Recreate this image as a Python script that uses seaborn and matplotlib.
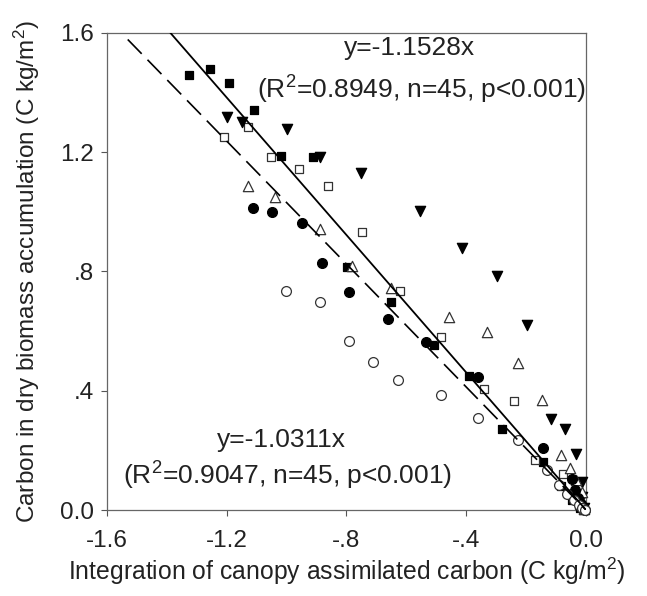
import matplotlib
matplotlib.use("Agg")
import matplotlib.pyplot as plt
import seaborn as sns
import numpy as np
import pandas as pd

# ---- data ----
filled_sq_x = [-1.327, -1.257, -1.193, -1.107, -1.017, -0.913, -0.797, -0.650, -0.507, -0.390, -0.280, -0.143, -0.083, -0.047, -0.020]
filled_sq_y = [1.460, 1.480, 1.433, 1.342, 1.188, 1.184, 0.815, 0.698, 0.553, 0.450, 0.272, 0.161, 0.081, 0.034, 0.007]

open_sq_x = [-1.210, -1.127, -1.053, -0.960, -0.863, -0.747, -0.623, -0.483, -0.340, -0.240, -0.170, -0.077, -0.040, -0.023, -0.010]
open_sq_y = [1.252, 1.285, 1.185, 1.144, 1.087, 0.933, 0.735, 0.581, 0.406, 0.366, 0.168, 0.121, 0.050, 0.017, 0.000]

filled_tri_x = [-1.200, -1.150, -0.997, -0.887, -0.753, -0.553, -0.413, -0.297, -0.197, -0.117, -0.070, -0.033, -0.013, -0.013, -0.007]
filled_tri_y = [1.319, 1.302, 1.279, 1.184, 1.131, 1.003, 0.879, 0.785, 0.621, 0.305, 0.272, 0.188, 0.094, 0.044, 0.007]

open_tri_x = [-1.130, -1.037, -0.887, -0.783, -0.650, -0.457, -0.330, -0.227, -0.147, -0.083, -0.053, -0.033, -0.013, -0.010, -0.007]
open_tri_y = [1.087, 1.050, 0.943, 0.819, 0.745, 0.648, 0.597, 0.493, 0.369, 0.185, 0.141, 0.101, 0.060, 0.024, 0.003]

filled_circ_x = [-1.113, -1.047, -0.950, -0.883, -0.793, -0.660, -0.533, -0.360, -0.143, -0.047, -0.037, -0.027, -0.017, -0.010, -0.003]
filled_circ_y = [1.013, 0.999, 0.963, 0.829, 0.732, 0.641, 0.564, 0.446, 0.208, 0.104, 0.067, 0.040, 0.020, 0.007, 0.000]

open_circ_x = [-1.003, -0.890, -0.790, -0.713, -0.627, -0.483, -0.360, -0.227, -0.130, -0.090, -0.063, -0.040, -0.023, -0.013, -0.003]
open_circ_y = [0.735, 0.698, 0.567, 0.497, 0.436, 0.386, 0.309, 0.235, 0.134, 0.084, 0.054, 0.034, 0.017, 0.007, 0.000]

slope_solid = -1.1528
slope_dashed = -1.0311
solid_x_range = [-1.388, 0.0]
dashed_x_range = [-1.53, 0.0]

x_ticks = [-1.6, -1.2, -0.8, -0.4, 0.0]
x_tick_labels = ["-1.6", "-1.2", "-.8", "-.4", "0.0"]
y_ticks = [0.0, 0.4, 0.8, 1.2, 1.6]
y_tick_labels = ["0.0", ".4", ".8", "1.2", "1.6"]

# ---- style ----
sns.set_theme(style="ticks")
plt.rcParams["font.family"] = ["Liberation Sans", "DejaVu Sans"]
plt.rcParams["mathtext.fontset"] = "custom"
plt.rcParams["mathtext.rm"] = "Liberation Sans"
plt.rcParams["mathtext.it"] = "Liberation Sans:italic"
plt.rcParams["mathtext.bf"] = "Liberation Sans:bold"

TXT = "#222222"
fig = plt.figure(figsize=(6.47, 5.96), dpi=100)
ax = fig.add_axes([0.165, 0.144, 0.741, 0.801])

series = [
    (filled_sq_x, filled_sq_y, "s", "black", "black", 38),
    (open_sq_x, open_sq_y, "s", "white", "#333333", 38),
    (filled_tri_x, filled_tri_y, "v", "black", "black", 55),
    (open_tri_x, open_tri_y, "^", "white", "#333333", 55),
    (filled_circ_x, filled_circ_y, "o", "black", "black", 50),
    (open_circ_x, open_circ_y, "o", "white", "#333333", 50),
]
for xs, ys, m, fc, ec, s in series:
    df = pd.DataFrame({"x": xs, "y": ys})
    sns.scatterplot(data=df, x="x", y="y", marker=m, s=s, color=fc,
                    edgecolor=ec, linewidth=0.9, ax=ax, zorder=3, clip_on=False)

xs_solid = np.array(solid_x_range)
xs_dash = np.array(dashed_x_range)
sns.lineplot(x=xs_solid, y=slope_solid * xs_solid, color="black", lw=1.3, ax=ax, zorder=4)
sns.lineplot(x=xs_dash, y=slope_dashed * xs_dash, color="black", lw=1.2,
             dashes=False, ax=ax, zorder=4, linestyle=(0, (12, 5)))

ax.set_xlim(-1.6, 0.0)
ax.set_ylim(0.0, 1.6)
ax.set_xticks(x_ticks)
ax.set_xticklabels(x_tick_labels)
ax.set_yticks(y_ticks)
ax.set_yticklabels(y_tick_labels)
ax.tick_params(axis="both", direction="out", length=4, width=0.8,
               color="#555555", labelsize=17.5, labelcolor=TXT)
ax.tick_params(axis="x", pad=10)
ax.tick_params(axis="y", pad=5)
for sp in ax.spines.values():
    sp.set_visible(True)
    sp.set_color("#666666")
    sp.set_linewidth(0.9)

ax.set_xlabel("Integration of canopy assimilated carbon (C kg/m$^{2}$)", fontsize=17.8, color=TXT, labelpad=3)
ax.set_ylabel("Carbon in dry biomass accumulation (C kg/m$^{2}$)", fontsize=17.5, color=TXT, labelpad=13)

ax.text(-0.59, 1.55, "y=-1.1528x", fontsize=19, ha="center", va="center", color=TXT)
ax.text(-1.10, 1.41, "(R$^{2}$=0.8949, n=45, p<0.001)", fontsize=19, ha="left", va="center", color=TXT)
ax.text(-1.017, 0.235, "y=-1.0311x", fontsize=19, ha="center", va="center", color=TXT)
ax.text(-1.545, 0.115, "(R$^{2}$=0.9047, n=45, p<0.001)", fontsize=19, ha="left", va="center", color=TXT)

fig.savefig("out.png", dpi=100)
